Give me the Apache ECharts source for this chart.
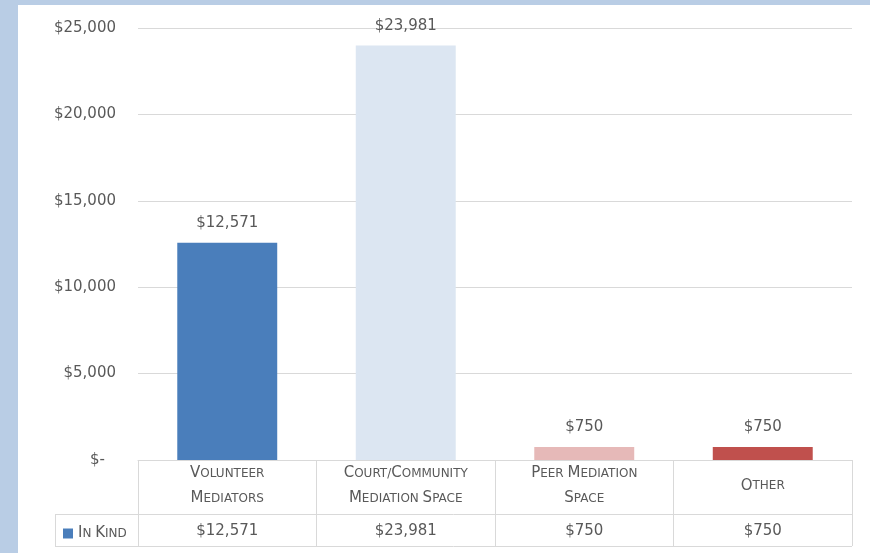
<!DOCTYPE html>
<html>
<head>
  <meta charset="UTF-8">
  <title>In Kind</title>
  <script src="https://cdn.jsdelivr.net/npm/echarts@6/dist/echarts.min.js"></script>
  <style>
    html, body { margin:0; padding:0; background:#b9cde5; }
    #chart { position:absolute; left:18px; top:5px; width:852px; height:548px; background:#fff; }
  </style>
</head>
<body>
<div id="chart"></div>
<script type="text/javascript">
  var categories = ['Volunteer\nMediators', 'Court/Community\nMediation Space', 'Peer Mediation\nSpace', 'Other'];
  var inKind = [12571, 23981, 750, 750];
  var yTicks = [0, 5000, 10000, 15000, 20000, 25000];
  var seriesName = 'In Kind';

  var barColors = ['#4a7ebb', '#dce6f2', '#e6b9b8', '#c0504d'];
  var grey = '#595959';
  var lineCol = '#d9d9d9';
  var font = 'DejaVu Sans';

  function money(v){
    return '$' + v.toLocaleString('en-US');
  }
  // fake small caps: capitals big, lower case as small capitals
  // suffix picks the style pair (b/s or b2/s2)
  function smallCaps(str, suffix){
    suffix = suffix || '';
    var out = '', buf = '', mode = '';
    for (var i = 0; i < str.length; i++) {
      var c = str[i];
      if (c == '\n') { if (buf) out += '{' + mode + suffix + '|' + buf + '}'; out += '\n'; buf = ''; mode = ''; continue; }
      var m = (c >= 'a' && c <= 'z') || c == ' ' || c == '/' ? 's' : 'b';
      if (m != mode && buf) { out += '{' + mode + suffix + '|' + buf + '}'; buf = ''; }
      mode = m;
      buf += c.toUpperCase();
    }
    if (buf) out += '{' + mode + suffix + '|' + buf + '}';
    return out;
  }

  var chart = echarts.init(document.getElementById('chart'));
  chart.setOption({
    animation: false,
    textStyle: { fontFamily: font },
    grid: { left: 120, right: 18, top: 23, bottom: 93 },
    legend: {
      left: 40, top: 516,
      itemWidth: 10, itemHeight: 10, itemGap: 0,
      icon: 'rect',
      formatter: function(n){ return smallCaps(n); },
      textStyle: {
        color: grey,
        rich: {
          b: { fontSize: 15, color: grey, fontFamily: font },
          s: { fontSize: 12, color: grey, fontFamily: font }
        }
      }
    },
    xAxis: {
      type: 'category',
      data: categories,
      axisLine: { show: true, lineStyle: { color: lineCol } },
      axisTick: { show: true, interval: 0, length: 86, lineStyle: { color: lineCol } },
      axisLabel: {
        interval: 0,
        margin: 1,
        formatter: function(v, i){
          var twoLines = v.indexOf('\n') >= 0;
          return smallCaps(v, twoLines ? '' : '2') + '\n{v|' + money(inKind[i]) + '}';
        },
        rich: {
          b: { fontSize: 15, color: grey, fontFamily: font, lineHeight: 25 },
          s: { fontSize: 12, color: grey, fontFamily: font, lineHeight: 25 },
          b2: { fontSize: 15, color: grey, fontFamily: font, lineHeight: 50 },
          s2: { fontSize: 12, color: grey, fontFamily: font, lineHeight: 50 },
          v: { fontSize: 15, color: grey, fontFamily: font, lineHeight: 40 }
        }
      }
    },
    yAxis: {
      type: 'value',
      min: yTicks[0],
      max: yTicks[yTicks.length - 1],
      interval: yTicks[1] - yTicks[0],
      axisLine: { show: false },
      axisTick: { show: false },
      splitLine: { lineStyle: { color: lineCol } },
      axisLabel: {
        margin: 22,
        color: grey,
        fontSize: 15,
        formatter: function(v){
          return v === 0 ? '{z|$-}' : money(v);
        },
        rich: { z: { fontSize: 15, color: grey, fontFamily: font, padding: [0, 11, 0, 0] } }
      }
    },
    series: [{
      name: seriesName,
      type: 'bar',
      barWidth: '56%',
      itemStyle: { color: barColors[0] },
      data: inKind.map(function(v, i){ return { value: v, itemStyle: { color: barColors[i] } }; }),
      label: {
        show: true,
        position: 'top',
        distance: 12,
        color: grey,
        fontSize: 15,
        formatter: function(p){ return money(p.value); }
      }
    }],
    graphic: [
      { type: 'line', shape: { x1: 37, y1: 509.5, x2: 834, y2: 509.5 }, style: { stroke: lineCol, lineWidth: 1 } },
      { type: 'line', shape: { x1: 37, y1: 541.5, x2: 834, y2: 541.5 }, style: { stroke: lineCol, lineWidth: 1 } },
      { type: 'line', shape: { x1: 37.5, y1: 509, x2: 37.5, y2: 542 }, style: { stroke: lineCol, lineWidth: 1 } }
    ]
  });
</script>
</body>
</html>
